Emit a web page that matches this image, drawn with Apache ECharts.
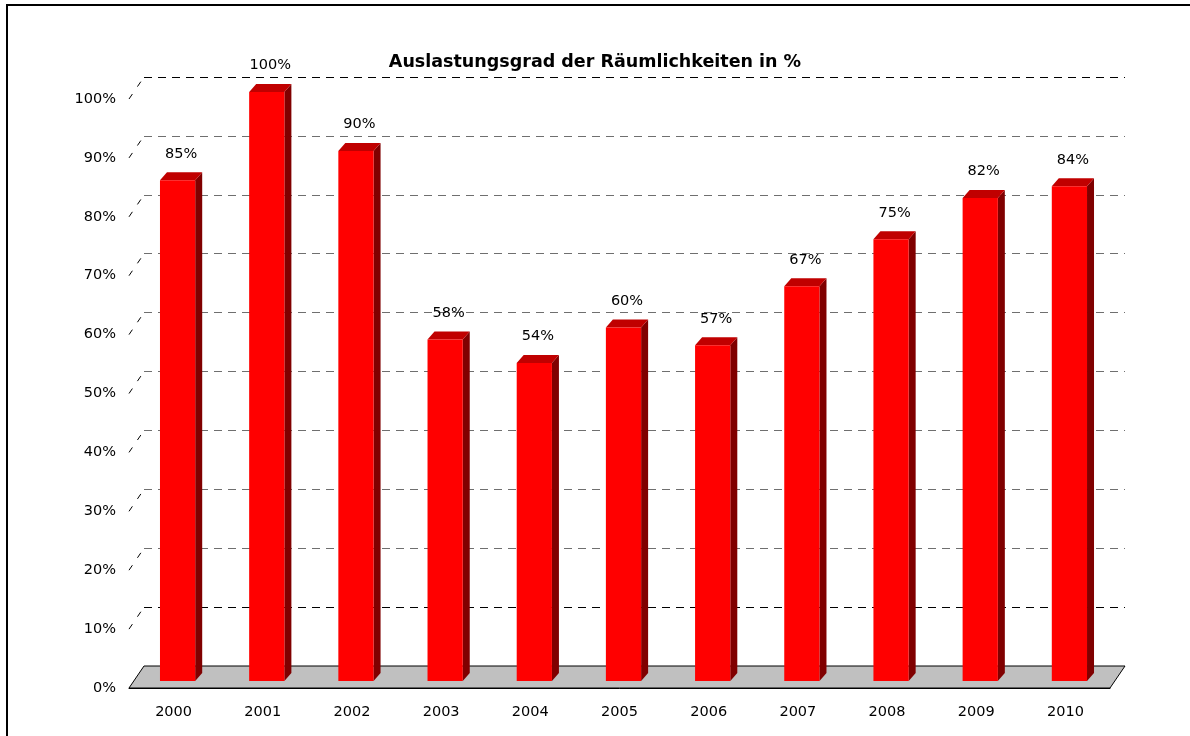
<!DOCTYPE html>
<html>
<head>
<meta charset="utf-8">
<script src="https://cdn.jsdelivr.net/npm/echarts@6/dist/echarts.min.js"></script>
<style>html,body{margin:0;padding:0;background:#fff}#chart{width:1190px;height:736px}</style>
</head>
<body>
<div id="chart"></div>
<script>
const categories = ['2000','2001','2002','2003','2004','2005','2006','2007','2008','2009','2010'];
const values = [85, 100, 90, 58, 54, 60, 57, 67, 75, 82, 84];
const yTicks = [10, 20, 30, 40, 50, 60, 70, 80, 90, 100];
const titleText = 'Auslastungsgrad der Räumlichkeiten in %';

const FONT = 'DejaVu Sans';
const DEPTH_X = 15, DEPTH_Y = 22;       // floor depth offset
const BAR_OFF_X = 4, BAR_OFF_Y = 7;     // bar front face offset from front plane
const BAR_DX = 7, BAR_DY = 8;           // bar depth
const BAR_RATIO = 0.395;
const LABEL_GAP = 11;

const chart = echarts.init(document.getElementById('chart'), null, {renderer: 'canvas'});

function floorItem(params, api) {
  const w = api.size([1, 0])[0];
  const l = api.coord([0, 0]);
  const r = api.coord([categories.length - 1, 0]);
  const x0 = l[0] - w / 2, x1 = r[0] + w / 2, y = l[1];
  return {
    type: 'polygon',
    shape: {points: [[x0, y], [x1, y], [x1 + DEPTH_X, y - DEPTH_Y], [x0 + DEPTH_X, y - DEPTH_Y]]},
    style: {fill: '#c0c0c0', stroke: '#000', lineWidth: 1}
  };
}

function diagItem(params, api) {
  const w = api.size([1, 0])[0];
  const p = api.coord([0, api.value(0)]);
  const x = p[0] - w / 2;
  return {
    type: 'line',
    shape: {x1: x, y1: p[1], x2: x + DEPTH_X, y2: p[1] - DEPTH_Y},
    style: {stroke: '#000', lineWidth: 1, lineDash: [6, 9]}
  };
}

function barItem(params, api) {
  const idx = api.value(0), v = api.value(1);
  const top = api.coord([idx, v]);
  const base = api.coord([idx, 0]);
  const bw = api.size([1, 0])[0] * BAR_RATIO;
  const x0 = top[0] - bw / 2 + BAR_OFF_X;
  const x1 = x0 + bw;
  const yt = top[1] - BAR_OFF_Y;
  const yb = base[1] - BAR_OFF_Y;
  return {
    type: 'group',
    children: [
      {type: 'polygon', shape: {points: [[x1, yt], [x1 + BAR_DX, yt - BAR_DY], [x1 + BAR_DX, yb - BAR_DY], [x1, yb]]},
       style: {fill: '#800000'}},
      {type: 'polygon', shape: {points: [[x0, yt], [x1, yt], [x1 + BAR_DX, yt - BAR_DY], [x0 + BAR_DX, yt - BAR_DY]]},
       style: {fill: '#c00000'}},
      {type: 'rect', shape: {x: x0, y: yt, width: bw, height: yb - yt}, style: {fill: '#ff0000'}},
      {type: 'text', x: x0 + bw / 2 + BAR_DX / 2, y: yt - BAR_DY - LABEL_GAP,
       style: {text: v + '%', fill: '#000', font: '14.5px "' + FONT + '"', align: 'center', verticalAlign: 'bottom'}}
    ]
  };
}

const gridLineColors = yTicks.map(t => (t === 10 || t === 100) ? '#000' : '#6f6f6f');
gridLineColors.unshift('#000');

chart.setOption({
  animation: false,
  backgroundColor: '#fff',
  textStyle: {fontFamily: FONT},
  title: {
    text: titleText, left: 'center', top: 48,
    textStyle: {fontFamily: FONT, fontSize: 17.5, fontWeight: 'bold', color: '#000'}
  },
  graphic: [{
    type: 'rect', shape: {x: 7, y: 5, width: 1200, height: 800},
    style: {fill: 'none', stroke: '#000', lineWidth: 2}, silent: true, z: 100
  }],
  grid: [
    {left: 129, right: 80, top: 99, bottom: 48},
    {left: 144, right: 65, top: 77, bottom: 70}
  ],
  xAxis: [
    {type: 'category', gridIndex: 0, data: categories, boundaryGap: true,
     axisLine: {lineStyle: {color: '#000', width: 1}},
     axisTick: {length: 9, lineStyle: {color: '#000'}, alignWithLabel: false},
     axisLabel: {color: '#000', fontSize: 14.5, fontFamily: FONT, margin: 17},
     z: 10},
    {type: 'category', gridIndex: 1, data: categories, show: false}
  ],
  yAxis: [
    {type: 'value', gridIndex: 0, min: 0, max: 100, interval: 10,
     axisLine: {show: false}, axisTick: {show: false}, splitLine: {show: false},
     axisLabel: {formatter: '{value}%', color: '#000', fontSize: 14.5, fontFamily: FONT, margin: 13}},
    {type: 'value', gridIndex: 1, min: 0, max: 100, interval: 10,
     axisLine: {show: false}, axisTick: {show: false}, axisLabel: {show: false},
     splitLine: {show: true, lineStyle: {color: gridLineColors, width: 1, type: [8, 6]}}}
  ],
  series: [
    {type: 'custom', xAxisIndex: 0, yAxisIndex: 0, renderItem: floorItem, data: [[0]], z: 1, silent: true},
    {type: 'custom', xAxisIndex: 0, yAxisIndex: 0, renderItem: diagItem, data: yTicks.map(t => [t]),
     encode: {y: 0}, z: 1, silent: true, clip: false},
    {type: 'custom', xAxisIndex: 0, yAxisIndex: 0, renderItem: barItem,
     data: values.map((v, i) => [i, v]), encode: {x: 0, y: 1}, z: 3, clip: false}
  ]
});
</script>
</body>
</html>
